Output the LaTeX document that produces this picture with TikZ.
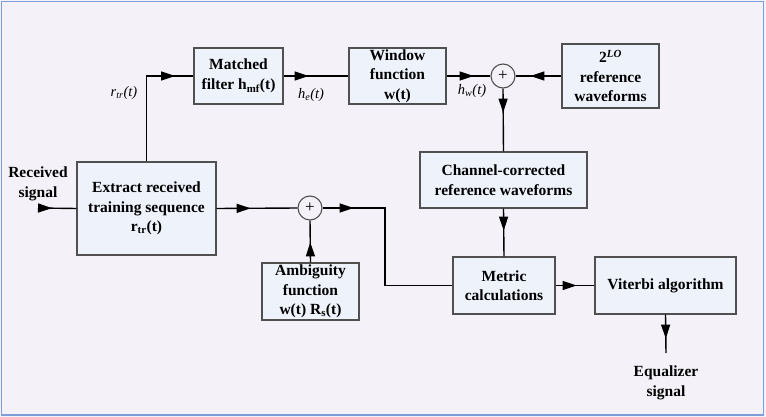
\documentclass[tikz,border=0pt]{standalone}
\usepackage{fontspec}
\setmainfont{Liberation Serif}
\usetikzlibrary{arrows.meta,decorations.markings}
\definecolor{bgc}{HTML}{F4F2F8}
\definecolor{framec}{HTML}{7D9ED6}
\definecolor{boxfill}{HTML}{EEF2FB}
\definecolor{boxline}{HTML}{505050}
\tikzset{
  blk/.style={draw=boxline,fill=boxfill,line width=1.2pt,align=center,inner sep=0pt,
    font=\bfseries\fontsize{15.5}{19.5}\selectfont},
  sumc/.style={circle,draw=boxline,fill=bgc,line width=1.1pt,minimum size=24pt,inner sep=0pt,
    font=\fontsize{17}{17}\selectfont},
  lbl/.style={font=\itshape\fontsize{14.5}{16}\selectfont,inner sep=0pt},
  txt/.style={font=\bfseries\fontsize{15.5}{19.5}\selectfont,align=center,inner sep=0pt},
  conn/.style={line width=1.4pt,black},
  arrat/.style={postaction={decorate},decoration={markings,
    mark=at position #1 with {\arrow{Triangle[length=14pt,width=9pt]}}}}
}
\begin{document}
\begin{tikzpicture}[x=1pt,y=-1pt]
\useasboundingbox (0,0) rectangle (766,417);
\fill[bgc] (0,0) rectangle (766,417);
\draw[framec,line width=1.6pt] (1.5,1.5) rectangle (763.5,415);

\node[blk,minimum width=89pt,minimum height=56pt] (mf) at (238.5,76) {Matched\\filter h\textsubscript{mf}(t)};
\node[blk,minimum width=97pt,minimum height=56pt] (win) at (397.5,76) {Window\\function\\w(t)};
\node[sumc] (s1) at (503,76) {+};
\node[blk,minimum width=97pt,minimum height=64pt] (lo) at (610.5,76) {2\textsuperscript{\textit{LO}}\\reference\\waveforms};
\node[blk,minimum width=167pt,minimum height=56pt] (ch) at (503.5,180) {Channel-corrected\\reference waveforms};
\node[blk,minimum width=139pt,minimum height=93pt] (ex) at (146.5,208.5) {Extract received\\training sequence\\r\textsubscript{tr}(t)};
\node[sumc] (s2) at (310,208) {+};
\node[blk,minimum width=97pt,minimum height=57pt] (amb) at (310.5,291.5) {Ambiguity\\function\\w(t) R\textsubscript{s}(t)};
\node[blk,minimum width=102pt,minimum height=57pt] (met) at (504,285.5) {Metric\\calculations};
\node[blk,minimum width=141pt,minimum height=57pt] (vit) at (665.5,285.5) {Viterbi algorithm};

\node[txt] (rec) at (38,184) {Received\\signal};
\node[txt] (eq) at (666,383) {Equalizer\\signal};
\node[lbl] (lrtr) at (124,93) {r\textsubscript{tr}(t)};
\node[lbl] (lhe) at (311,95) {h\textsubscript{e}(t)};
\node[lbl] (lhw) at (472,91) {h\textsubscript{w}(t)};

\coordinate (recstart) at (38,208);
\coordinate (bend) at (385,208);
\coordinate (eqend) at (666,353);

\draw[conn,arrat=14pt] (recstart) -- (ex.west);
\draw[conn,arrat=114pt] (ex.north) |- (mf.west);
\draw[conn,arrat=25pt] (mf.east) -- (win.west);
\draw[conn,arrat=27pt] (win.east) -- (s1.west);
\draw[conn,arrat=31pt] (lo.west) -- (s1.east);
\draw[conn,arrat=24pt] (s1.south) -- (ch.north);
\draw[conn,arrat=34pt] (ex.east) -- (s2.west);
\draw[conn,arrat=20pt] (amb.north) -- (s2.south);
\draw[conn,arrat=31pt] (s2.east) -- (bend) |- (met.west);
\draw[conn,arrat=22pt] (ch.south) -- (met.north);
\draw[conn,arrat=21pt] (met.east) -- (vit.west);
\draw[conn,arrat=24pt] (vit.south) -- (eqend);
\end{tikzpicture}
\end{document}
